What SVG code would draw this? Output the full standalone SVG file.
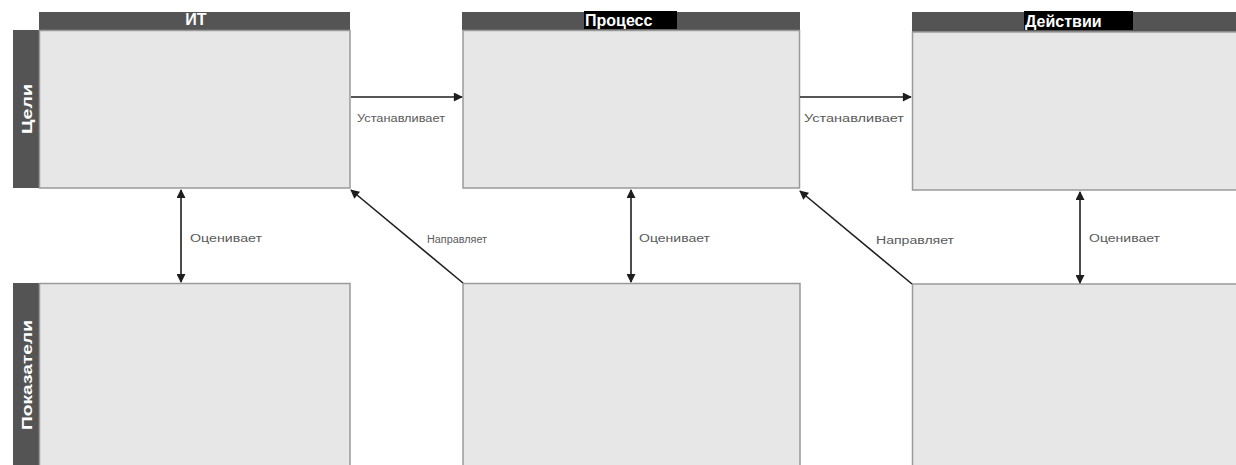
<svg xmlns="http://www.w3.org/2000/svg" width="1236" height="465" viewBox="0 0 1236 465">
  <style>
    .cell { fill: #e7e7e7; stroke: #9a9a9a; stroke-width: 1.5; }
    .bar { fill: #545454; }
    .tag { fill: #000000; }
    .head { font-family: "Liberation Sans", Arial, sans-serif; font-weight: bold; font-size: 16px; fill: #ffffff; }
    .side { font-family: "Liberation Sans", Arial, sans-serif; font-weight: bold; font-size: 15px; fill: #ffffff; }
    .lbl { font-family: "Liberation Sans", Arial, sans-serif; font-size: 10px; fill: #5a5a5a; }
    .wire { stroke: #1e1e1e; stroke-width: 1.6; fill: none; }
  </style>
  <defs>
    <marker id="head" viewBox="0 0 10 10" refX="9" refY="5" markerWidth="10" markerHeight="9" markerUnits="userSpaceOnUse" orient="auto-start-reverse">
      <path d="M0,0 L10,5 L0,10 z" fill="#1e1e1e"/>
    </marker>
  </defs>
  <rect width="1236" height="465" fill="#ffffff"/>

  <!-- row labels -->
  <g id="row-goals">
    <rect class="bar" x="13" y="30" width="26" height="158"/>
    <text class="side" transform="translate(32,109) rotate(-90)" text-anchor="middle" textLength="50" lengthAdjust="spacingAndGlyphs">Цели</text>
  </g>
  <g id="row-metrics">
    <rect class="bar" x="13" y="283" width="26" height="182"/>
    <text class="side" transform="translate(32,375) rotate(-90)" text-anchor="middle" textLength="110" lengthAdjust="spacingAndGlyphs">Показатели</text>
  </g>

  <!-- column IT -->
  <g id="it-goals">
    <rect class="bar" x="39" y="12" width="311" height="18"/>
    <text class="head" x="196" y="25" text-anchor="middle">ИТ</text>
    <rect class="cell" x="39.5" y="30.5" width="310.5" height="157.5"/>
  </g>
  <g id="it-metrics">
    <rect class="cell" x="39.5" y="283.5" width="310.5" height="185"/>
  </g>

  <!-- column Process -->
  <g id="process-goals">
    <rect class="bar" x="462" y="12" width="338" height="18"/>
    <rect class="tag" x="584" y="11" width="93" height="18"/>
    <text class="head" x="585" y="26">Процесс</text>
    <rect class="cell" x="463" y="30.5" width="336.5" height="157.5"/>
  </g>
  <g id="process-metrics">
    <rect class="cell" x="463" y="283.5" width="337" height="185"/>
  </g>

  <!-- column Actions -->
  <g id="actions-goals">
    <rect class="bar" x="912" y="12" width="324" height="20"/>
    <rect class="tag" x="1024" y="11" width="109" height="19"/>
    <text class="head" x="1025" y="27">Действии</text>
    <rect class="cell" x="912.5" y="32" width="330" height="158"/>
  </g>
  <g id="actions-metrics">
    <rect class="cell" x="912.5" y="284" width="330" height="185"/>
  </g>

  <!-- connectors -->
  <g id="connectors">
    <line class="wire" x1="351" y1="97" x2="462" y2="97" marker-end="url(#head)"/>
    <line class="wire" x1="800" y1="97" x2="911" y2="97" marker-end="url(#head)"/>

    <line class="wire" x1="181" y1="190" x2="181" y2="282" marker-start="url(#head)" marker-end="url(#head)"/>
    <line class="wire" x1="631" y1="190" x2="631" y2="282" marker-start="url(#head)" marker-end="url(#head)"/>
    <line class="wire" x1="1080" y1="192" x2="1080" y2="283" marker-start="url(#head)" marker-end="url(#head)"/>

    <line class="wire" x1="463" y1="283" x2="351" y2="190" marker-end="url(#head)"/>
    <line class="wire" x1="912" y1="284" x2="800" y2="191" marker-end="url(#head)"/>

    <text class="lbl" x="357" y="122" textLength="88" lengthAdjust="spacingAndGlyphs">Устанавливает</text>
    <text class="lbl" x="804" y="122" textLength="100" lengthAdjust="spacingAndGlyphs">Устанавливает</text>
    <text class="lbl" x="190" y="242" textLength="72" lengthAdjust="spacingAndGlyphs">Оценивает</text>
    <text class="lbl" x="639" y="242" textLength="71" lengthAdjust="spacingAndGlyphs">Оценивает</text>
    <text class="lbl" x="1089" y="242" textLength="71" lengthAdjust="spacingAndGlyphs">Оценивает</text>
    <text class="lbl" x="427" y="243" textLength="60" lengthAdjust="spacingAndGlyphs">Направляет</text>
    <text class="lbl" x="876" y="244" textLength="78" lengthAdjust="spacingAndGlyphs">Направляет</text>
  </g>
</svg>
